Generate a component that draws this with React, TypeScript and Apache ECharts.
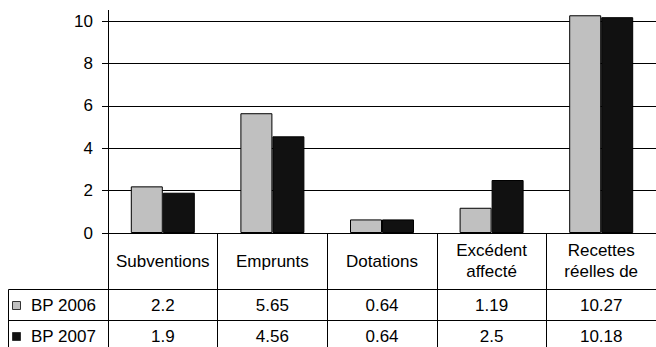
import React, { useEffect, useRef } from "react";
import * as echarts from "echarts";

// Category names as shown in the table header (wrapped)
const categories = ["Subventions", "Emprunts", "Dotations", "Excédent\naffecté", "Recettes\nréelles de"];
const seriesNames = ["BP 2006", "BP 2007"];
const bp2006 = [2.2, 5.65, 0.64, 1.19, 10.27];
const bp2007 = [1.9, 4.56, 0.64, 2.5, 10.18];
const yTicks = [0, 2, 4, 6, 8, 10];
const seriesColors = ["#c0c0c0", "#111111"];

const FONT = "'Liberation Sans', Arial, Helvetica, sans-serif";
const FONT_SIZE = 17;

export default function App() {
  const ref = useRef<HTMLDivElement>(null);

  useEffect(() => {
    const el = ref.current;
    if (!el) return;
    const chart = echarts.init(el, null, { renderer: "svg" });
    const seriesData = [bp2006, bp2007];

    chart.setOption({
      animation: false,
      backgroundColor: "#ffffff",
      grid: { left: 108, width: 555, top: 10.4, height: 222.6, containLabel: false },
      xAxis: {
        type: "category",
        data: categories,
        axisLine: { show: true, lineStyle: { color: "#000", width: 1 } },
        axisTick: { show: true, alignWithLabel: false, inside: false, length: 130, lineStyle: { color: "#000", width: 1 } },
        axisLabel: {
          interval: 0,
          margin: 28,
          verticalAlign: "middle",
          lineHeight: 21,
          color: "#000",
          fontFamily: FONT,
          fontSize: FONT_SIZE,
        },
        splitLine: { show: false },
      },
      yAxis: {
        type: "value",
        min: 0,
        max: 10.5,
        interval: 2,
        axisLine: { show: true, lineStyle: { color: "#000", width: 1 } },
        axisTick: { show: true, length: 6, customValues: yTicks, lineStyle: { color: "#000" } },
        axisLabel: {
          customValues: yTicks,
          margin: 15,
          color: "#000",
          fontFamily: FONT,
          fontSize: FONT_SIZE,
        },
        splitLine: { show: true, lineStyle: { color: "#000", width: 1 } },
      },
      series: seriesNames.map((name, s) => ({
        name,
        type: "bar",
        data: seriesData[s],
        barWidth: 32,
        barGap: "0%",
        itemStyle: { color: seriesColors[s], borderColor: "#000", borderWidth: 1 },
      })),
    });

    // Data table under the plot, positioned from the axes
    const zeroY = chart.convertToPixel({ yAxisIndex: 0 }, 0) as number;
    const xs = categories.map((_, i) => chart.convertToPixel({ xAxisIndex: 0 }, i) as number);
    const headerH = 56;
    const rowH = 31;
    const tableLeft = 8.5;
    const rowTops = [zeroY + headerH, zeroY + headerH + rowH];
    const lineStyle = { stroke: "#000", lineWidth: 1 };
    const elements: any[] = [];

    rowTops.forEach((t) => {
      const y = Math.round(t) + 0.5;
      elements.push({ type: "line", shape: { x1: tableLeft, y1: y, x2: 700, y2: y }, style: lineStyle, silent: true });
    });
    elements.push({
      type: "line",
      shape: { x1: tableLeft, y1: Math.round(rowTops[0]) + 0.5, x2: tableLeft, y2: 400 },
      style: lineStyle,
      silent: true,
    });

    seriesNames.forEach((name, s) => {
      const cy = rowTops[s] + rowH / 2 + 1;
      elements.push({
        type: "rect",
        shape: { x: 12.5, y: Math.round(cy) - 4.5, width: 8, height: 8 },
        style: { fill: seriesColors[s], stroke: "#333", lineWidth: 1 },
        silent: true,
      });
      elements.push({
        type: "text",
        x: 31,
        y: cy,
        style: { text: name, fill: "#000", font: `${FONT_SIZE}px ${FONT}`, align: "left", verticalAlign: "middle" },
        silent: true,
      });
      seriesData[s].forEach((v, i) => {
        elements.push({
          type: "text",
          x: xs[i],
          y: cy,
          style: { text: String(v), fill: "#000", font: `${FONT_SIZE}px ${FONT}`, align: "center", verticalAlign: "middle" },
          silent: true,
        });
      });
    });

    chart.setOption({ graphic: { elements } });

    return () => chart.dispose();
  }, []);

  return (
    <div
      ref={ref}
      style={{ position: "fixed", left: 0, top: 0, width: 656, height: 347, background: "#fff" }}
    />
  );
}
